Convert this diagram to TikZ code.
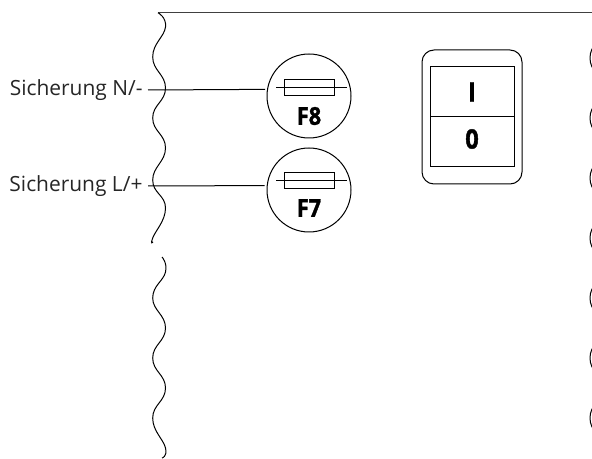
\documentclass[tikz,border=0pt]{standalone}
\usepackage{fontspec}
\setmainfont{Open Sans}
\newfontfamily\tagfont{Open Sans}[BoldFeatures={FakeBold=1.5,FakeStretch=0.88}]
\tikzstyle{fuse} = [circle, draw, minimum size=63pt, inner sep=0pt]
\tikzstyle{fusebox} = [rectangle, draw, minimum width=37.5pt, minimum height=12pt, inner sep=0pt]
\tikzstyle{fusetag} = [font=\tagfont\bfseries\fontsize{18.5}{18.5}\selectfont, inner sep=0pt]
\tikzstyle{lbl} = [anchor=east, inner ysep=0pt, inner xsep=3.75pt, text=black!85, font=\fontsize{15.7}{18}\selectfont]
\tikzstyle{cell} = [rectangle, draw, minimum width=63pt, minimum height=37.5pt, inner sep=0pt]
\tikzstyle{celltag} = [font=\tagfont\bfseries\fontsize{20}{20}\selectfont, inner sep=0pt]
\tikzstyle{pin} = [circle, draw, minimum size=31.5pt, inner sep=0pt]

\begin{document}
\begin{tikzpicture}[x=0.75pt,y=-0.75pt,line width=0.75pt]
  \useasboundingbox (0,0) rectangle (592,459);

  % housing edge
  \coordinate (top_l) at (158,12.7);
  \coordinate (top_r) at (592,12.7);
  \draw[black!75] (top_l) -- (top_r);
  \draw plot[smooth,tension=0.8] coordinates {(158,12.7) (165.5,27) (152.7,57) (165.5,88) (152.7,118)
    (165.5,148) (152.7,180) (165.5,208) (152.7,238) (153,242)};
  \draw plot[smooth,tension=0.8] coordinates {(162,257) (165.5,272) (152.7,298) (165.5,328) (152.7,358)
    (165.5,388) (152.7,418) (165.5,448) (162,458)};

  % fuses
  \node[fuse] (F_acht) at (309,96) {};
  \node[fuse] (F_sieben) at (309,190) {};
  \node[fusebox] (box_acht) at (309,88) {};
  \node[fusebox] (box_sieben) at (309,180.5) {};
  \node[fusetag] (tag_acht) at (309,116) {F8};
  \node[fusetag] (tag_sieben) at (309,208) {F7};
  \coordinate (acht_l) at (276,88);
  \coordinate (acht_r) at (347,88);
  \coordinate (sieben_l) at (276,180.5);
  \coordinate (sieben_r) at (347,180.5);
  \draw (acht_l) -- (acht_r);
  \draw (sieben_l) -- (sieben_r);

  % labels
  \node[lbl] (N_lbl) at (148,90) {Sicherung N/-};
  \node[lbl] (L_lbl) at (148,186) {Sicherung L/+};
  \draw[shorten >=1.5pt] (N_lbl.east) -- (F_acht.171.8);
  \draw[shorten >=1.5pt] (L_lbl.east) -- (F_sieben.174.5);

  % switch
  \node[cell] (sw_on) at (472,92) {};
  \node[cell] (sw_off) at (472,142) {};
  \node[celltag] (tag_on) at (472,92) {I};
  \node[celltag] (tag_off) at (472,139) {0};
  \node[draw, rounded corners=9pt, minimum width=75pt, minimum height=100.5pt, inner sep=0pt] (sw) at (472,117) {};

  % pins, cut off at the right edge
  \foreach \y in {58,118,178,238,298,358,418}
    \node[pin] (pin_\y) at (611,\y) {};
\end{tikzpicture}
\end{document}
